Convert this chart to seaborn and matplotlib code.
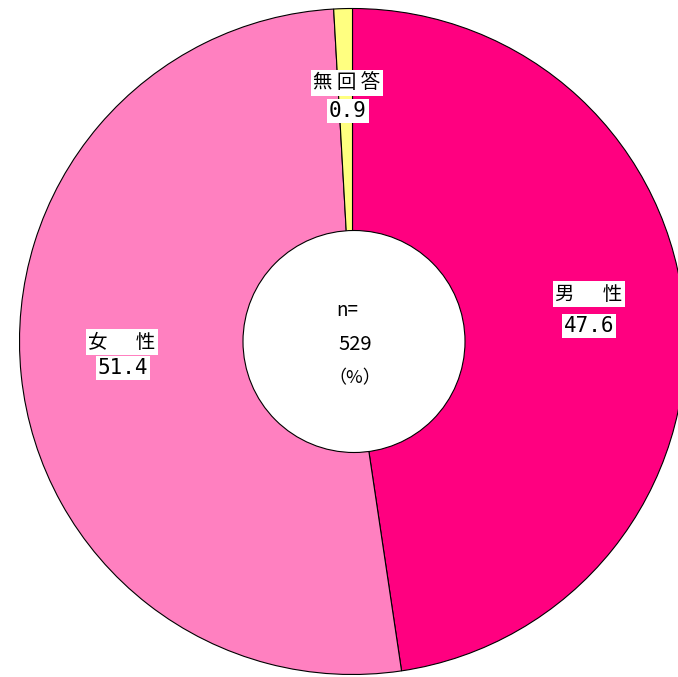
import matplotlib
matplotlib.use("Agg")
import matplotlib.pyplot as plt
import seaborn as sns
from matplotlib.patches import Circle

sns.set_theme(style="white")
plt.rcParams['font.family'] = ['Noto Sans CJK JP', 'DejaVu Sans']

categories = ["男　性", "女　性", "無回答"]
values = [47.6, 51.4, 0.9]
colors = ["#FF0080", "#FF80C0", "#FFFF80"]
n_total = 529

W, H = 678, 677
fig = plt.figure(figsize=(W / 100, H / 100), dpi=100)
ax = fig.add_axes([0, 0, 1, 1])

cx, cy, R = 352.5, H - 341.5, 333
ax.pie(values, colors=colors, startangle=90, counterclock=False,
       center=(cx, cy), radius=R,
       wedgeprops=dict(edgecolor="black", linewidth=0.8))
ax.add_patch(Circle((cx + 1.5, cy), 111, facecolor="white", edgecolor="black",
                    linewidth=0.8, zorder=5))
ax.set_xlim(0, W)
ax.set_ylim(0, H)
ax.set_aspect("equal")
ax.axis("off")

box = dict(facecolor="white", edgecolor="none", pad=1.5)
cjk = ['Noto Sans CJK JP', 'DejaVu Sans']
num = ['DejaVu Sans Mono', 'Noto Sans CJK JP']

label_text = ["男 　 性", "女 　 性", "無 回 答"]
label_pos = [(589, 294), (122, 342), (347, 83)]
value_pos = [(589, 326), (123, 368), (348, 111)]
for lab, v, (lx, ly), (vx, vy) in zip(label_text, values, label_pos, value_pos):
    ax.text(lx, H - ly, lab, ha="center", va="center", fontsize=14,
            family=cjk, color="black", bbox=box, zorder=6)
    ax.text(vx, H - vy, f"{v:.1f}", ha="center", va="center", fontsize=15,
            family=num, color="black", bbox=box, zorder=6)

ax.text(347, H - 311, "n=", ha="center", va="center", fontsize=13.5,
        family=cjk, color="black", zorder=7)
ax.text(355, H - 345, f"{n_total}", ha="center", va="center", fontsize=14.5,
        family=cjk, color="black", zorder=7)
ax.text(355, H - 378, "（%）", ha="center", va="center", fontsize=13,
        family=cjk, color="black", zorder=7)

fig.savefig("out.png", dpi=100)
